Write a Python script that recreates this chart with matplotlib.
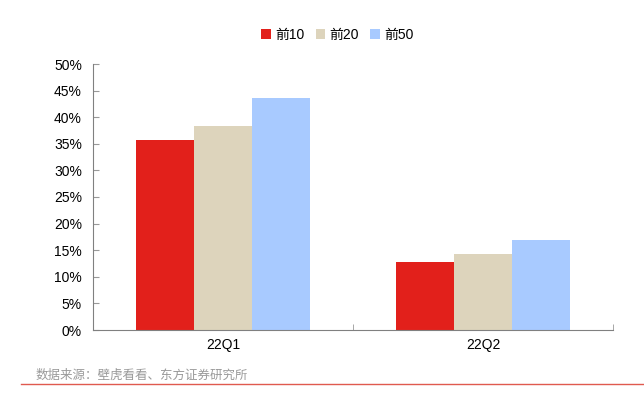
import matplotlib
matplotlib.use("Agg")
import matplotlib.pyplot as plt
import numpy as np
from matplotlib.ticker import FuncFormatter, FixedLocator

plt.rcParams['font.family'] = ['Liberation Sans', 'Noto Sans CJK SC', 'DejaVu Sans']

categories = ["22Q1", "22Q2"]
series_names = ["前10", "前20", "前50"]
top10 = [35.7, 12.8]
top20 = [38.4, 14.2]
top50 = [43.6, 16.9]
colors = ["#e2201b", "#ddd4bc", "#a8caff"]
source_text = "数据来源：壁虎看看、东方证券研究所"

fig = plt.figure(figsize=(6.44, 3.96), dpi=100)
ax = fig.add_axes([93/644, 1 - 330/396, 520/644, 266/396])

x = np.arange(len(categories))
w = 0.223
for i, (vals, name, c) in enumerate(zip([top10, top20, top50], series_names, colors)):
    ax.bar(x + (i - 1) * w, vals, width=w, color=c, label=name, zorder=2)

ax.set_xlim(-0.5, len(categories) - 0.5)
ax.set_ylim(0, 50)
ax.set_yticks(np.arange(0, 51, 5))
ax.yaxis.set_major_formatter(FuncFormatter(lambda v, p: f"{v:.0f}%"))
ax.set_xticks(x)
ax.set_xticklabels(categories)
ax.xaxis.set_minor_locator(FixedLocator([-0.5, 0.5, 1.5]))

for s in ["top", "right"]:
    ax.spines[s].set_visible(False)
for s in ["left", "bottom"]:
    ax.spines[s].set_color("#808080")
    ax.spines[s].set_linewidth(0.8)

ax.tick_params(axis="y", direction="in", length=4, color="#999999", labelsize=10, pad=8)
ax.tick_params(axis="x", which="major", length=0, labelsize=10, pad=6)
ax.tick_params(axis="x", which="minor", direction="in", length=4, color="#999999")

ax.legend(loc="lower center", bbox_to_anchor=(0.47, 1.035), ncol=3, frameon=False,
          handlelength=0.7, handleheight=0.7, handletextpad=0.3, columnspacing=0.8,
          fontsize=10)

fig.text(36/644, 1 - 376/396, source_text, fontsize=9, color="#999999", va="center")
fig.add_artist(plt.Line2D([21/644, 1], [1 - 384/396, 1 - 384/396], color="#e05a4f", lw=1))

fig.savefig("out.png", dpi=100)
